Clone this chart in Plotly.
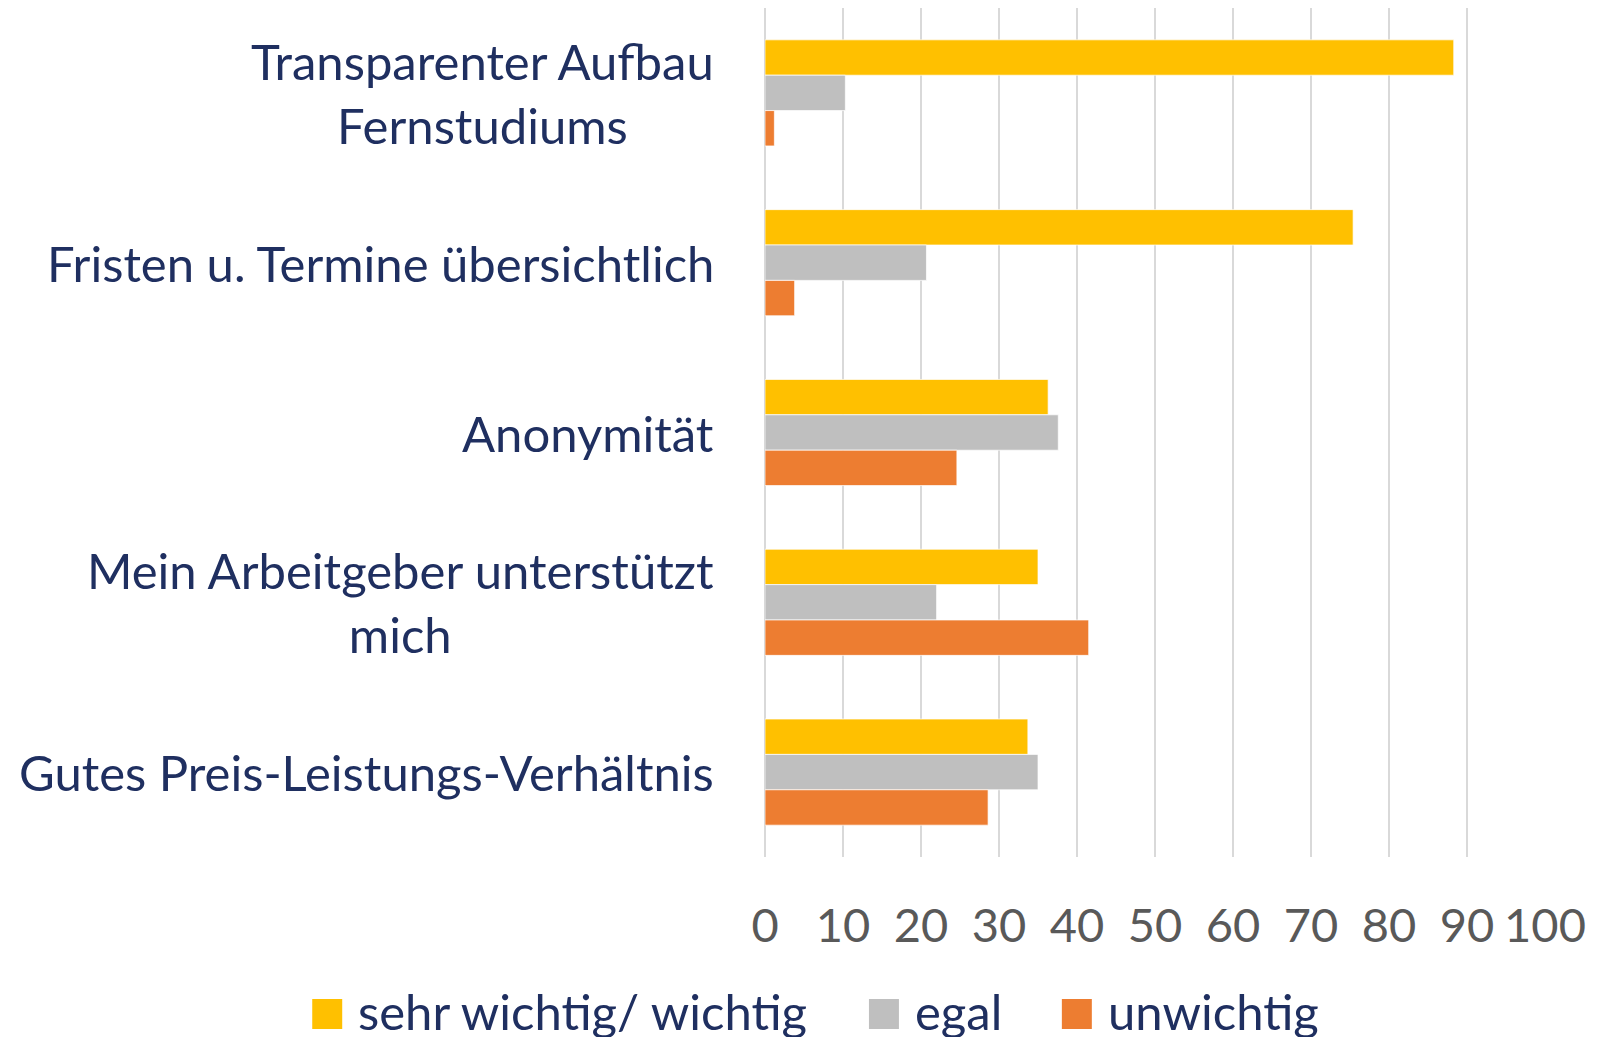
import plotly.graph_objects as go

# ---- data ----
categories = [
    "Transparenter Aufbau<br>Fernstudiums",
    "Fristen u. Termine übersichtlich",
    "Anonymität",
    "Mein Arbeitgeber unterstützt<br>mich",
    "Gutes Preis-Leistungs-Verhältnis",
]
series_names = ["sehr wichtig/ wichtig", "egal", "unwichtig"]
sehr_wichtig = [88.3, 75.4, 36.3, 35.0, 33.7]
egal = [10.3, 20.7, 37.6, 22.0, 35.0]
unwichtig = [1.2, 3.8, 24.6, 41.5, 28.6]
x_ticks = [0, 10, 20, 30, 40, 50, 60, 70, 80, 90, 100]

colors = ["#FFC000", "#BFBFBF", "#ED7D31"]
navy = "#1F2F60"
FONT = "Lato"

# page has an 8px body margin; work in viewport pixels
OFF = 8
VW, VH = 1602, 1037
PX0, PX1 = 765, 1545.4   # plot area left/right in viewport px
PY0, PY1 = 8, 857        # plot area top/bottom in viewport px
W, H = VW - OFF, VH - OFF
L = PX0 - OFF
R = W - (PX1 - OFF)
T = PY0 - OFF
B = H - (PY1 - OFF)


def px2x(px):
    return (px - PX0) / (PX1 - PX0)


def px2y(py):
    return (PY1 - py) / (PY1 - PY0)


fig = go.Figure()
for name, vals, col in zip(series_names, [sehr_wichtig, egal, unwichtig], colors):
    fig.add_trace(go.Bar(
        y=categories, x=vals, name=name, orientation="h",
        marker=dict(color=col, line=dict(color="rgba(255,255,255,0.7)", width=1)),
        showlegend=False,
    ))

# category labels as centered annotations
for cat in categories:
    fig.add_annotation(
        x=px2x(716), xref="paper", y=cat, yref="y",
        text=cat, showarrow=False, xanchor="right", yanchor="middle",
        align="center", font=dict(family=FONT, size=49, color=navy),
    )

# manual legend
legend_squares = [312, 869, 1062]
for name, col, sx in zip(series_names, colors, legend_squares):
    fig.add_shape(
        type="rect", xref="paper", yref="paper",
        x0=px2x(sx), x1=px2x(sx + 30), y0=px2y(999), y1=px2y(1029),
        fillcolor=col, line=dict(width=0),
    )
    fig.add_annotation(
        x=px2x(sx + 44), xref="paper", y=px2y(1011), yref="paper",
        text=name, showarrow=False, xanchor="left", yanchor="middle",
        font=dict(family=FONT, size=49, color=navy),
    )

fig.update_layout(
    width=W, height=H,
    margin=dict(l=L, r=R, t=T, b=B, autoexpand=False),
    paper_bgcolor="white", plot_bgcolor="white",
    barmode="group", bargap=0.375, bargroupgap=0,
    font=dict(family=FONT, color=navy),
    xaxis=dict(
        range=[0, 100], tickvals=x_ticks, ticktext=[str(t) for t in x_ticks],
        showgrid=True, gridcolor="#D9D9D9", gridwidth=1.5,
        zeroline=True, zerolinecolor="#D9D9D9", zerolinewidth=1.5,
        showline=False, ticks="",
        tickfont=dict(family=FONT, size=47, color="#595959"),
        ticklabelstandoff=37,
    ),
    yaxis=dict(
        autorange="reversed", showticklabels=False, showgrid=False,
        zeroline=False, showline=False, ticks="",
    ),
)

fig.write_html("out.html")
